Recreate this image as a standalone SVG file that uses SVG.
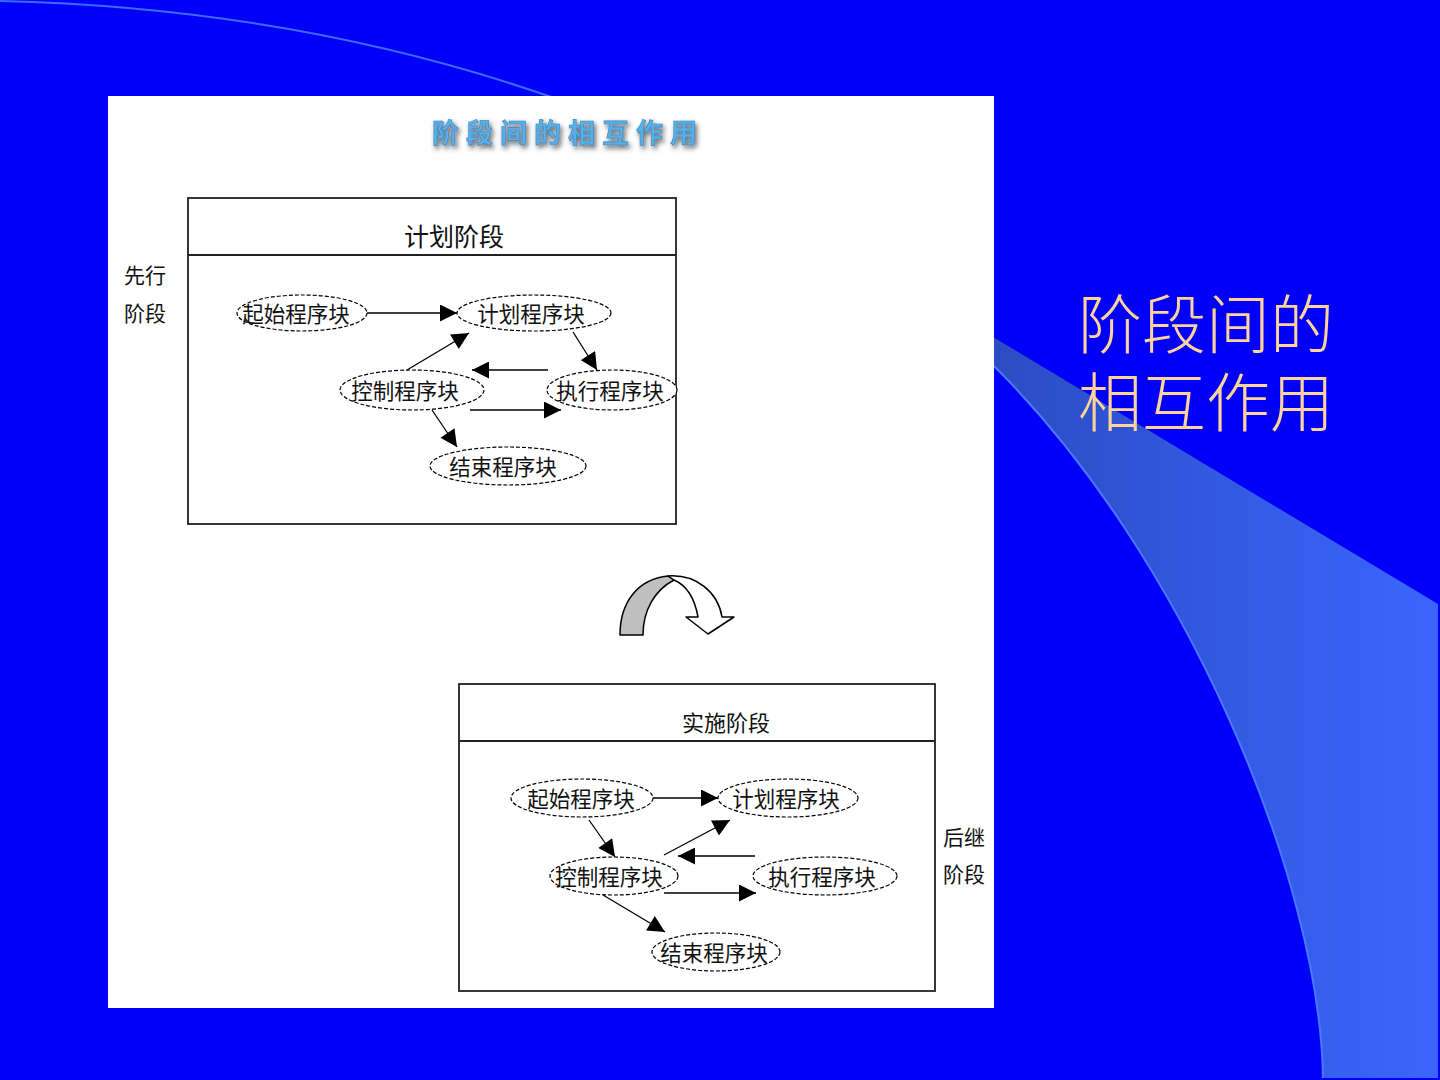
<svg xmlns="http://www.w3.org/2000/svg" width="1440" height="1080" viewBox="0 0 1440 1080">
<defs>
<linearGradient id="band" x1="993" y1="0" x2="1440" y2="0" gradientUnits="userSpaceOnUse">
<stop offset="0" stop-color="#2B4CC2"/>
<stop offset="1" stop-color="#3A66FF"/>
</linearGradient>
<filter id="shadow" x="-10%" y="-50%" width="120%" height="200%">
<feGaussianBlur in="SourceAlpha" stdDeviation="2.5"/>
<feOffset dx="2" dy="3" result="b"/>
<feFlood flood-color="#333333" flood-opacity="0.8"/>
<feComposite in2="b" operator="in"/>
<feMerge><feMergeNode/><feMergeNode in="SourceGraphic"/></feMerge>
</filter>
<marker id="arr" viewBox="0 0 10 10" refX="10" refY="5" markerWidth="18" markerHeight="17" markerUnits="userSpaceOnUse" orient="auto">
<path d="M0,0 L10,5 L0,10 Z" fill="#000"/>
</marker>
<style>
.node ellipse{fill:#fff;stroke:#000;stroke-width:1.2;stroke-dasharray:4,2}
.t{font-family:"Noto Sans CJK SC","Noto Sans",sans-serif;fill:#111;text-anchor:middle;dominant-baseline:central}
.nt{font-size:21.5px}
.lbl{font-size:21px}
.box{fill:#fff;stroke:#222;stroke-width:1.8}
.edge{stroke:#000;stroke-width:1.3;fill:none;marker-end:url(#arr)}
</style>
</defs>

<!-- background -->
<rect x="0" y="0" width="1440" height="1080" fill="#0000FA"/>
<path d="M0,1 Q300,8 560,100" fill="none" stroke="#3E6BFF" stroke-width="2"/>
<path d="M993,337 L1438,604 L1438,1078 L1323,1078 C1320,880 1185,555 993,365 Z" fill="url(#band)"/>
<path d="M1323,1078 C1320,880 1185,555 993,365" fill="none" stroke="#4A78FF" stroke-width="2"/>

<g id="side-title">
<text font-family="Noto Sans CJK SC, sans-serif" font-weight="300" font-size="64" fill="#FFD39A"><tspan x="1078" y="348">阶段间的</tspan><tspan x="1078" y="426">相互作用</tspan></text>
</g>

<!-- white panel -->
<rect x="108" y="96" width="886" height="912" fill="#fff"/>
<text x="568" y="131" font-family="Noto Sans CJK SC, sans-serif" font-weight="bold" font-size="27" letter-spacing="7" fill="#5AB0E6" stroke="#3A86C0" stroke-width="0.6" text-anchor="middle" dominant-baseline="central" filter="url(#shadow)">阶段间的相互作用</text>

<!-- upper phase -->
<g id="plan-phase">
<rect class="box" x="188" y="198" width="488" height="326"/>
<line x1="188" y1="255" x2="676" y2="255" stroke="#222" stroke-width="1.8"/>
<text class="t" font-size="25" x="454" y="235">计划阶段</text>
</g>
<g id="label-prev">
<text class="t lbl" x="145" y="274">先行</text>
<text class="t lbl" x="145" y="312">阶段</text>
</g>
<g id="u-start" class="node"><ellipse cx="302" cy="313" rx="65" ry="18"/><text class="t nt" x="296" y="312">起始程序块</text></g>
<g id="u-plan" class="node"><ellipse cx="534" cy="313" rx="77" ry="18"/><text class="t nt" x="531" y="312">计划程序块</text></g>
<g id="u-ctrl" class="node"><ellipse cx="412" cy="390" rx="72" ry="20"/><text class="t nt" x="405" y="389">控制程序块</text></g>
<g id="u-exec" class="node"><ellipse cx="612" cy="390" rx="65" ry="20"/><text class="t nt" x="610" y="389">执行程序块</text></g>
<g id="u-end" class="node"><ellipse cx="508" cy="466" rx="78" ry="19"/><text class="t nt" x="503" y="465">结束程序块</text></g>

<!-- transition arrow -->
<g id="transition">
<path d="M620,635 C620,602 638,579 668,576 L674,580 C655,590 643,610 643,635 Z" fill="#C0C0C0" stroke="#000" stroke-width="1.5" stroke-linejoin="round"/>
<path d="M668,576 C696,574 718,592 722,617 L734,617 L708,634 L686,617 L698,617 C695,600 688,586 674,580 Z" fill="#fff" stroke="#000" stroke-width="1.5" stroke-linejoin="round"/>
</g>

<!-- lower phase -->
<g id="impl-phase">
<rect class="box" x="459" y="684" width="476" height="307"/>
<line x1="459" y1="741" x2="935" y2="741" stroke="#222" stroke-width="1.8"/>
<text class="t" font-size="22" x="726" y="721">实施阶段</text>
</g>
<g id="label-next">
<text class="t lbl" x="964" y="836">后继</text>
<text class="t lbl" x="964" y="873">阶段</text>
</g>
<g id="l-start" class="node"><ellipse cx="582" cy="798" rx="71" ry="19"/><text class="t nt" x="581" y="797">起始程序块</text></g>
<g id="l-plan" class="node"><ellipse cx="788" cy="798" rx="70" ry="19"/><text class="t nt" x="786" y="797">计划程序块</text></g>
<g id="l-ctrl" class="node"><ellipse cx="614" cy="876" rx="64" ry="19"/><text class="t nt" x="609" y="875">控制程序块</text></g>
<g id="l-exec" class="node"><ellipse cx="825" cy="876" rx="72" ry="19"/><text class="t nt" x="822" y="875">执行程序块</text></g>
<g id="l-end" class="node"><ellipse cx="716" cy="952" rx="64" ry="19"/><text class="t nt" x="714" y="951">结束程序块</text></g>

<!-- connectors -->
<g id="connectors">
<line class="edge" x1="367" y1="313" x2="457" y2="313"/>
<line class="edge" x1="407" y1="370" x2="469" y2="333"/>
<line class="edge" x1="573" y1="332" x2="597" y2="370"/>
<line class="edge" x1="548" y1="370" x2="472" y2="370"/>
<line class="edge" x1="470" y1="410" x2="561" y2="410"/>
<line class="edge" x1="432" y1="410" x2="457" y2="447"/>

<line class="edge" x1="653" y1="798" x2="718" y2="798"/>
<line class="edge" x1="589" y1="820" x2="615" y2="857"/>
<line class="edge" x1="664" y1="855" x2="730" y2="820"/>
<line class="edge" x1="755" y1="856" x2="678" y2="856"/>
<line class="edge" x1="664" y1="893" x2="756" y2="893"/>
<line class="edge" x1="603" y1="895" x2="665" y2="932"/>
</g>
</svg>
